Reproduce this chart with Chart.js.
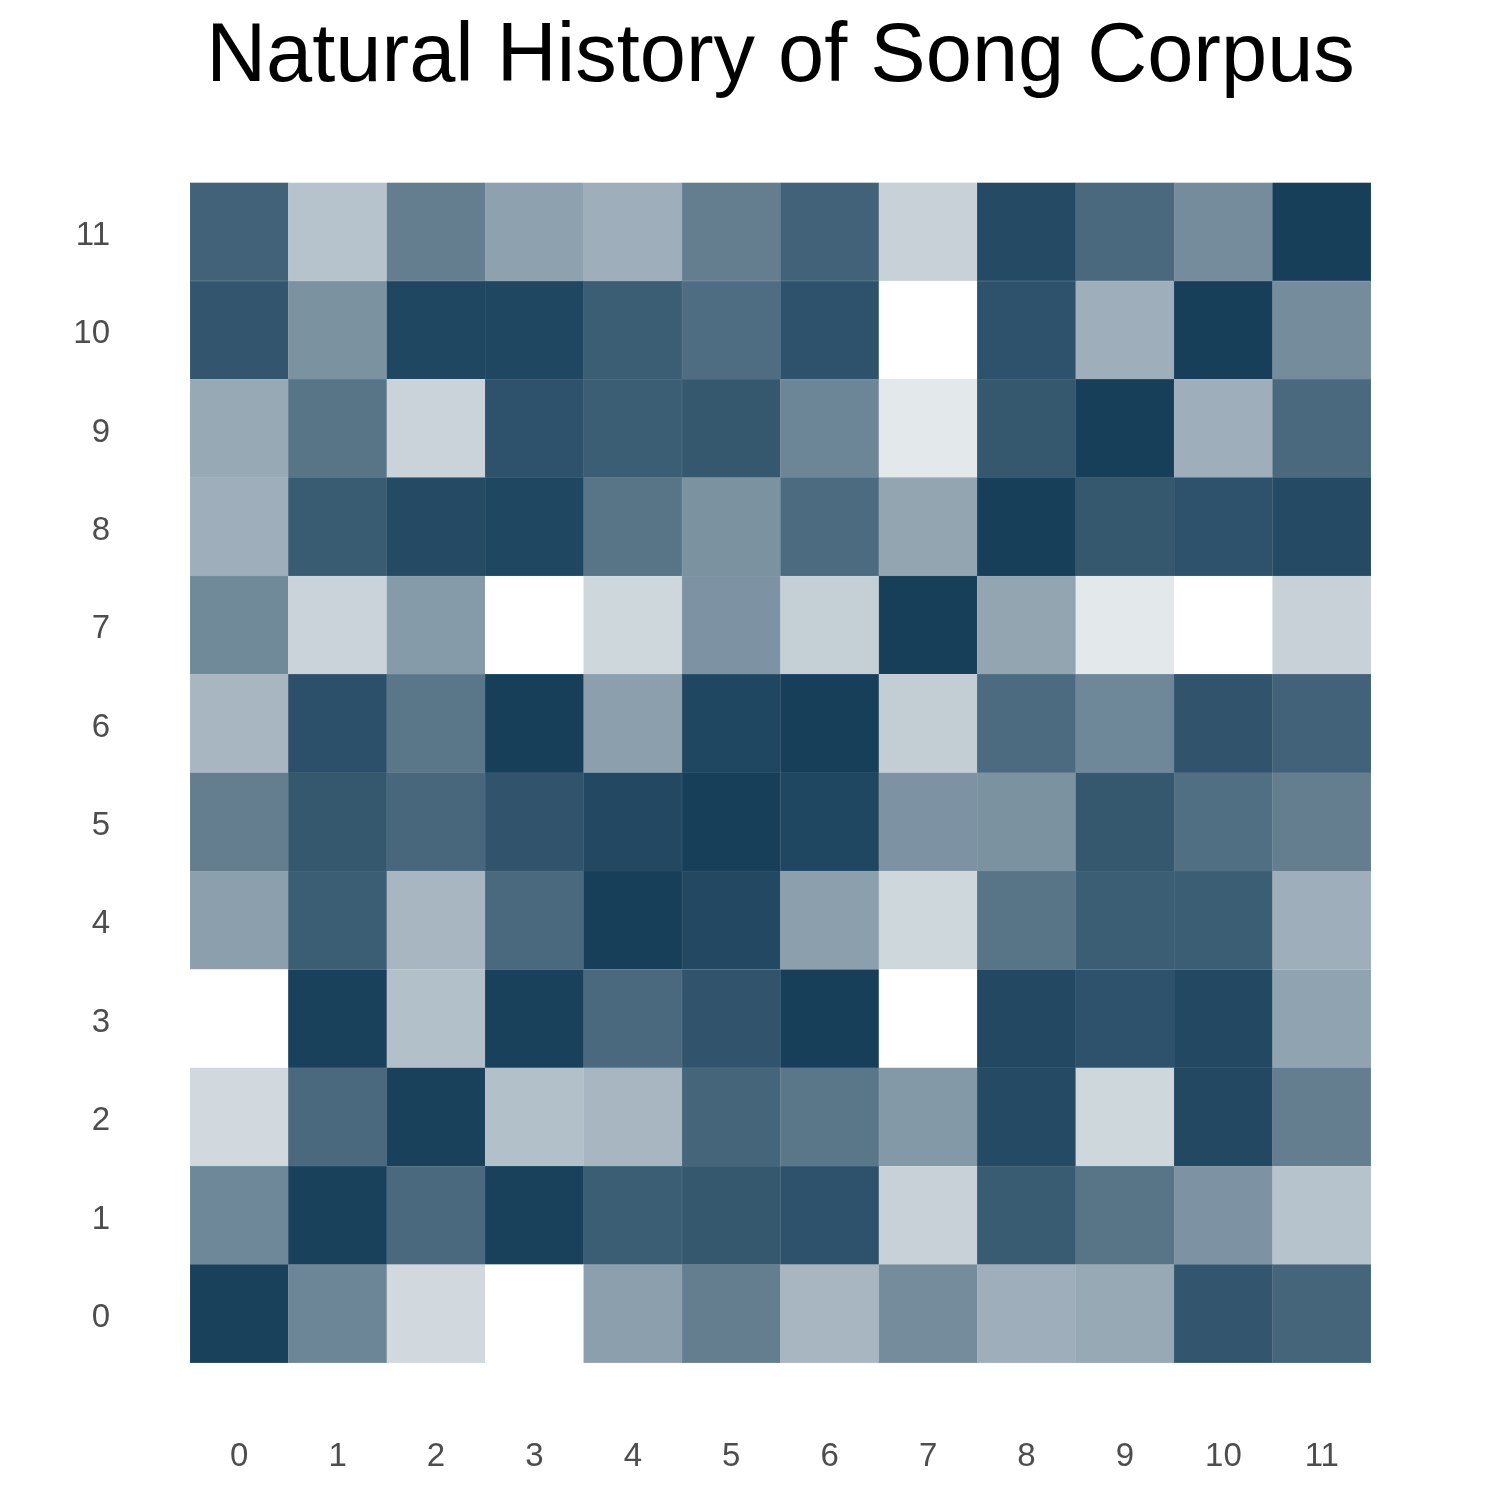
<!DOCTYPE html>
<html>
<head>
<meta charset="utf-8">
<title>Natural History of Song Corpus</title>
<script src="https://cdn.jsdelivr.net/npm/chart.js@4.4.1/dist/chart.umd.min.js"></script>
<style>
  html, body { margin: 0; padding: 0; background: #ffffff; }
  canvas { display: block; }
</style>
</head>
<body>
<canvas id="heatChart" width="1500" height="1500"></canvas>
<script>
const xLabels = ['0', '1', '2', '3', '4', '5', '6', '7', '8', '9', '10', '11'];
const yLabels = ['0', '1', '2', '3', '4', '5', '6', '7', '8', '9', '10', '11'];

// cell intensity (0 = lightest, 100 = darkest), one row per y label, bottom row first
const row0  = [99, 63, 20, 0, 50, 67, 38, 60, 42, 45, 88, 80];
const row1  = [62, 99, 78, 99, 84, 87, 90, 24, 85, 72, 56, 31];
const row2  = [20, 78, 99, 33, 38, 80, 71, 53, 94, 21, 95, 67];
const row3  = [0, 99, 33, 99, 78, 89, 100, 0, 95, 90, 95, 48];
const row4  = [50, 84, 38, 78, 100, 95, 50, 21, 72, 84, 84, 42];
const row5  = [67, 87, 79, 89, 95, 100, 96, 56, 57, 87, 75, 67];
const row6  = [38, 91, 71, 100, 50, 96, 100, 26, 77, 62, 89, 82];
const row7  = [61, 23, 52, 0, 21, 56, 25, 100, 47, 12, 0, 24];
const row8  = [42, 85, 94, 96, 72, 57, 77, 47, 100, 87, 90, 94];
const row9  = [45, 72, 23, 90, 84, 87, 63, 12, 87, 100, 42, 78];
const row10 = [88, 57, 96, 96, 84, 76, 90, 0, 90, 42, 100, 60];
const row11 = [82, 31, 67, 49, 42, 67, 82, 24, 94, 78, 60, 100];

const intensity = [row0, row1, row2, row3, row4, row5, row6, row7, row8, row9, row10, row11];

const lowColor = [255, 255, 255];
const highColor = [23, 63, 90];

function cellColor(v) {
  const t = v / 100;
  const c = lowColor.map((lo, i) => Math.round(lo + (highColor[i] - lo) * t));
  return 'rgb(' + c.join(',') + ')';
}

const tickFont = { family: 'Liberation Sans', size: 33 };

const datasets = yLabels.map((label, r) => ({
  label: label,
  data: xLabels.map(() => 1),
  backgroundColor: intensity[r].map(cellColor),
  // thin seam slightly lighter than the cell itself
  borderColor: intensity[r].map((v) => cellColor(v * 0.85)),
  borderWidth: 0.5,
  borderSkipped: false,
  barPercentage: 1,
  categoryPercentage: 1
}));

const ctx = document.getElementById('heatChart').getContext('2d');
const heatChart = new Chart(ctx, {
  type: 'bar',
  data: { labels: xLabels, datasets: datasets },
  options: {
    responsive: false,
    animation: false,
    layout: { padding: { top: 0, right: 129, bottom: 23, left: 0 } },
    plugins: {
      legend: { display: false },
      tooltip: {
        callbacks: {
          title: (items) => 'x ' + items[0].label + ', y ' + items[0].dataset.label,
          label: (item) => 'value: ' + intensity[item.datasetIndex][item.dataIndex]
        }
      },
      title: {
        display: true,
        text: 'Natural History of Song Corpus',
        fullSize: false,
        color: '#000000',
        font: { family: 'Liberation Sans', size: 83, weight: 'normal' },
        padding: { top: 8, bottom: 75 }
      }
    },
    scales: {
      x: {
        stacked: true,
        grid: { display: false, drawTicks: false },
        border: { display: false },
        afterFit: (axis) => { axis.height = 114; },
        ticks: { color: '#4d4d4d', font: tickFont, padding: 74 }
      },
      y: {
        type: 'linear',
        stacked: true,
        min: 0,
        max: 12,
        grid: { display: false, drawTicks: false },
        border: { display: false },
        afterBuildTicks: (axis) => {
          axis.ticks = yLabels.map((l, i) => ({ value: i + 0.5 }));
        },
        afterFit: (axis) => { axis.width = 190; },
        ticks: {
          autoSkip: false,
          color: '#4d4d4d',
          font: tickFont,
          padding: 80,
          labelOffset: 4,
          callback: (v) => yLabels[Math.round(v - 0.5)]
        }
      }
    }
  }
});
</script>
</body>
</html>
